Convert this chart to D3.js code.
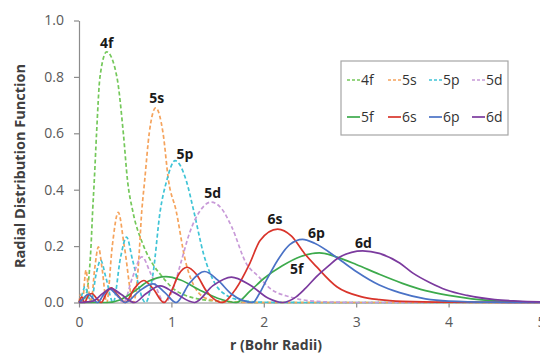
<!DOCTYPE html>
<html>
<head>
<meta charset="utf-8">
<script src="https://cdn.jsdelivr.net/npm/d3@7"></script>
<style>
  html, body { margin: 0; padding: 0; background: #fff; }
  svg { display: block; font-family: 'Open Sans', sans-serif; }
</style>
</head>
<body>
<div id="chart"></div>
<script>
// radial distribution values, [r (bohr), value]
const rdf4f = [[0,0],[0.05,0.008],[0.1,0.07],[0.13,0.2],[0.148,0.327],[0.165,0.43],[0.19,0.6],[0.227,0.8],[0.3,0.889],[0.41,0.8],[0.48,0.6],[0.526,0.43],[0.58,0.327],[0.7,0.2],[0.8,0.135],[0.88,0.1],[1.0,0.055],[1.2,0.02],[1.5,0.005],[2,0],[5,0]];
const rdf5s = [[0,0],[0.02,0.03],[0.04,0],[0.058,0.07],[0.076,0.115],[0.095,0.07],[0.13,0],[0.17,0.12],[0.21,0.197],[0.25,0.12],[0.3,0],[0.36,0.2],[0.425,0.32],[0.49,0.2],[0.59,0],[0.64,0.12],[0.68,0.327],[0.71,0.43],[0.76,0.6],[0.83,0.69],[0.91,0.6],[0.97,0.43],[1.05,0.327],[1.15,0.15],[1.27,0.045],[1.4,0.012],[1.6,0.002],[2,0],[5,0]];
const rdf5p = [[0,0],[0.035,0.03],[0.065,0.056],[0.095,0.03],[0.13,0],[0.185,0.1],[0.235,0.15],[0.29,0.09],[0.37,0],[0.45,0.16],[0.515,0.232],[0.58,0.15],[0.72,0],[0.8,0.1],[0.88,0.327],[0.95,0.433],[1.04,0.503],[1.16,0.433],[1.24,0.327],[1.35,0.17],[1.47,0.068],[1.6,0.025],[1.75,0.008],[2,0.001],[2.5,0],[5,0]];
const rdf5d = [[0,0],[0.2,0.003],[0.28,0.03],[0.34,0.05],[0.41,0.025],[0.48,0],[0.58,0.09],[0.68,0.162],[0.78,0.1],[0.93,0],[1.03,0.06],[1.11,0.15],[1.2,0.25],[1.3,0.32],[1.43,0.356],[1.55,0.33],[1.65,0.27],[1.81,0.139],[1.95,0.09],[2.06,0.052],[2.28,0.02],[2.5,0.006],[2.8,0.001],[3,0],[5,0]];
const rdf5f = [[0,0],[0.3,0],[0.45,0.01],[0.6,0.04],[0.75,0.075],[0.94,0.092],[1.1,0.08],[1.3,0.045],[1.5,0.015],[1.7,0],[1.85,0.04],[2.0,0.085],[2.2,0.13],[2.4,0.163],[2.6,0.176],[2.8,0.16],[3.0,0.135],[3.25,0.1],[3.5,0.068],[3.75,0.042],[4.0,0.025],[4.25,0.013],[4.5,0.006],[4.8,0.002],[5,0.001]];
const rdf6s = [[0,0],[0.03,0.02],[0.06,0],[0.1,0.025],[0.14,0.032],[0.19,0.015],[0.24,0],[0.3,0.035],[0.35,0.052],[0.41,0.03],[0.5,0],[0.6,0.05],[0.7,0.078],[0.8,0.05],[0.92,0],[1.0,0.04],[1.08,0.1],[1.17,0.125],[1.27,0.1],[1.38,0.04],[1.55,0],[1.7,0.05],[1.85,0.14],[1.96,0.22],[2.15,0.26],[2.3,0.235],[2.44,0.174],[2.57,0.127],[2.79,0.056],[3.05,0.021],[3.25,0.01],[3.5,0.004],[4,0.001],[5,0]];
const rdf6p = [[0,0],[0.05,0.015],[0.1,0.03],[0.15,0.015],[0.2,0],[0.27,0.03],[0.33,0.048],[0.4,0.03],[0.5,0],[0.65,0.04],[0.8,0.066],[0.93,0.035],[1.05,0],[1.2,0.07],[1.36,0.11],[1.5,0.08],[1.65,0.03],[1.88,0],[1.95,0.03],[2.03,0.08],[2.15,0.15],[2.28,0.205],[2.42,0.224],[2.55,0.21],[2.8,0.157],[3.0,0.11],[3.25,0.062],[3.47,0.035],[3.75,0.013],[4.0,0.005],[4.5,0.001],[5,0]];
const rdf6d = [[0,0],[0.15,0.005],[0.25,0.03],[0.35,0.05],[0.45,0.03],[0.6,0],[0.72,0.03],[0.88,0.059],[1.03,0.035],[1.25,0],[1.45,0.06],[1.65,0.09],[1.85,0.062],[2.05,0.015],[2.2,0],[2.35,0.02],[2.45,0.05],[2.57,0.092],[2.7,0.13],[2.8,0.157],[2.95,0.178],[3.07,0.183],[3.25,0.174],[3.47,0.14],[3.61,0.105],[3.8,0.07],[3.97,0.045],[4.2,0.025],[4.5,0.01],[4.75,0.005],[5,0.002]];

const orbitals = ['4f', '5s', '5p', '5d', '5f', '6s', '6p', '6d'];
const seriesData = [rdf4f, rdf5s, rdf5p, rdf5d, rdf5f, rdf6s, rdf6p, rdf6d];
const xTicks = [0, 1, 2, 3, 4, 5];
const yTicks = [0, 0.2, 0.4, 0.6, 0.8, 1.0];
// peak labels, in data units
const peakLabels = [
  ['4f', 0.30, 0.921], ['5s', 0.84, 0.724], ['5p', 1.147, 0.527], ['5d', 1.447, 0.389],
  ['6s', 2.12, 0.295], ['6p', 2.57, 0.248], ['5f', 2.356, 0.118], ['6d', 3.077, 0.212]
];

const colors = {
  '4f': '#74c85a', '5s': '#f5a35c', '5p': '#3fc4d6', '5d': '#c89ad8',
  '5f': '#3daa4c', '6s': '#d9342b', '6p': '#4a72c6', '6d': '#7b3a9e'
};
const dashed = { '4f': true, '5s': true, '5p': true, '5d': true };

const width = 540;
const height = 353;
const margin = { left: 79, top: 20.5, bottom: 50.5 };

const svg = d3.select('#chart')
  .append('svg')
  .attr('width', width)
  .attr('height', height);

const xScale = d3.scaleLinear().domain([0, 5]).range([margin.left, margin.left + 5 * 92.4]);
const yScale = d3.scaleLinear().domain([0, 1]).range([height - margin.bottom, margin.top]);

// y axis
const yAxis = d3.axisLeft(yScale).tickValues(yTicks).tickFormat(d3.format('.1f')).tickSize(5).tickSizeOuter(0);
const yAxisG = svg.append('g')
  .attr('transform', 'translate(' + margin.left + ',0)')
  .call(yAxis);

// x axis
const xAxis = d3.axisBottom(xScale).tickValues(xTicks).tickFormat(d3.format('d')).tickSize(5).tickSizeOuter(0);
const xAxisG = svg.append('g')
  .attr('transform', 'translate(0,' + yScale(0) + ')')
  .call(xAxis);

[xAxisG, yAxisG].forEach((g) => {
  g.select('.domain').attr('stroke', '#8c8c8c').attr('stroke-width', 1.2);
  g.selectAll('.tick line').attr('stroke', '#8c8c8c').attr('stroke-width', 1.2);
  g.selectAll('.tick text')
    .attr('fill', '#595959')
    .style('font-size', '14px')
    .style('font-family', "'Open Sans', sans-serif");
});
yAxisG.selectAll('.tick text').attr('x', -15);
xAxisG.selectAll('.tick text').attr('y', 15);

// axis titles
svg.append('text')
  .attr('x', 276)
  .attr('y', 350)
  .attr('text-anchor', 'middle')
  .attr('fill', '#404040')
  .style('font-size', '14px')
  .style('font-weight', 'bold')
  .text('r (Bohr Radii)');

svg.append('text')
  .attr('transform', 'translate(25,166) rotate(-90)')
  .attr('text-anchor', 'middle')
  .attr('fill', '#404040')
  .style('font-size', '14.5px')
  .style('font-weight', 'bold')
  .text('Radial Distribution Function');

// curves
const line = d3.line()
  .x((d) => xScale(d[0]))
  .y((d) => yScale(d[1]))
  .curve(d3.curveMonotoneX);

const plot = svg.append('g');
orbitals.forEach((name, i) => {
  plot.append('path')
    .datum(seriesData[i])
    .attr('fill', 'none')
    .attr('stroke', colors[name])
    .attr('stroke-width', 1.7)
    .attr('stroke-linejoin', 'round')
    .attr('stroke-dasharray', dashed[name] ? '4,2.5' : null)
    .attr('d', line);
});

// peak labels
svg.append('g')
  .selectAll('text')
  .data(peakLabels)
  .enter()
  .append('text')
  .attr('x', (d) => xScale(d[1]))
  .attr('y', (d) => yScale(d[2]) + 5)
  .attr('text-anchor', 'middle')
  .attr('fill', '#1a1a1a')
  .style('font-size', '14px')
  .style('font-weight', 'bold')
  .text((d) => d[0]);

// legend
const legend = svg.append('g').attr('transform', 'translate(341,61)');
legend.append('rect')
  .attr('width', 167)
  .attr('height', 74)
  .attr('fill', '#fff')
  .attr('stroke', '#a6a6a6')
  .attr('stroke-width', 1.2);

const colX = [6, 47, 88, 131];
const rowY = [19, 56];
orbitals.forEach((name, i) => {
  const item = legend.append('g')
    .attr('transform', 'translate(' + colX[i % 4] + ',' + rowY[Math.floor(i / 4)] + ')');
  item.append('line')
    .attr('x1', 0)
    .attr('x2', 13)
    .attr('stroke', colors[name])
    .attr('stroke-width', 1.7)
    .attr('stroke-dasharray', dashed[name] ? '3,2' : null);
  item.append('text')
    .attr('x', 14)
    .attr('y', 5)
    .attr('fill', '#333')
    .style('font-size', '14px')
    .text(name);
});
</script>
</body>
</html>
